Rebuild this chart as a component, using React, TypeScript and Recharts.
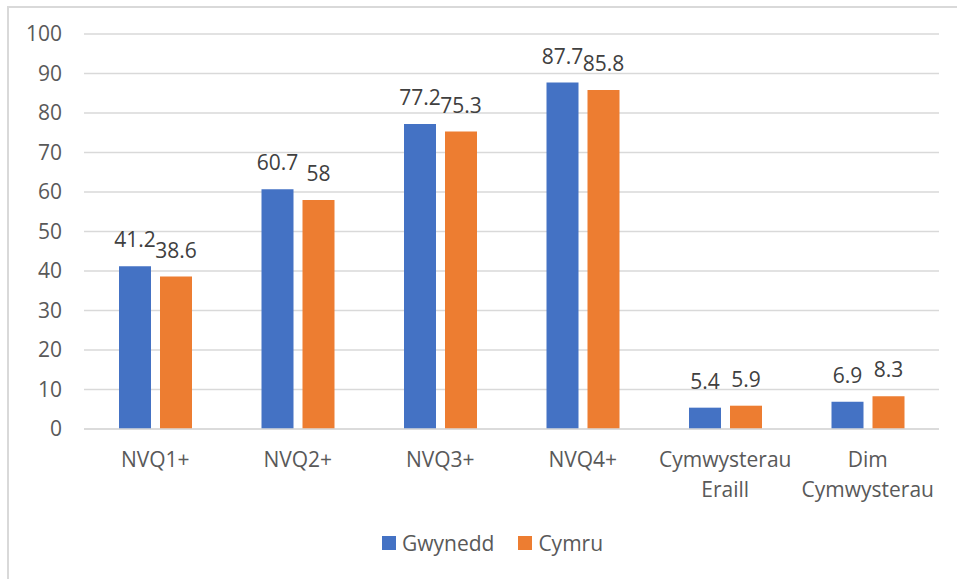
import React from "react";
import {
  BarChart,
  Bar,
  XAxis,
  YAxis,
  CartesianGrid,
  Legend,
  LabelList,
} from "recharts";

const categories = [
  "NVQ1+",
  "NVQ2+",
  "NVQ3+",
  "NVQ4+",
  "Cymwysterau Eraill",
  "Dim Cymwysterau",
];
const gwynedd = [41.2, 60.7, 77.2, 87.7, 5.4, 6.9];
const cymru = [38.6, 58, 75.3, 85.8, 5.9, 8.3];
const yTicks = [0, 10, 20, 30, 40, 50, 60, 70, 80, 90, 100];

const series = [
  { key: "Gwynedd", color: "#4472C4" },
  { key: "Cymru", color: "#ED7D31" },
];

const data = categories.map((name, i) => ({
  name,
  Gwynedd: gwynedd[i],
  Cymru: cymru[i],
}));

const FONT = "'Open Sans', sans-serif";

const CategoryTick = (props: any) => {
  const { x, y, payload } = props;
  const words = String(payload.value).split(" ");
  return (
    <text
      x={x}
      y={y}
      textAnchor="middle"
      fill="#595959"
      fontSize={21}
      fontFamily={FONT}
    >
      {words.map((w: string, i: number) => (
        <tspan key={i} x={x} dy={i === 0 ? 15 : 30}>
          {w}
        </tspan>
      ))}
    </text>
  );
};

const LegendContent = () => (
  <div
    style={{
      display: "flex",
      justifyContent: "center",
      gap: 24,
      fontFamily: FONT,
      fontSize: 21,
      color: "#595959",
      paddingLeft: 28,
    }}
  >
    {series.map((s) => (
      <div key={s.key} style={{ display: "flex", alignItems: "center" }}>
        <span
          style={{
            display: "inline-block",
            width: 14,
            height: 14,
            background: s.color,
            marginRight: 6,
          }}
        />
        {s.key}
      </div>
    ))}
  </div>
);

export default function App() {
  return (
    <div
      style={{
        position: "fixed",
        left: 0,
        top: 0,
        width: 957,
        height: 579,
        overflow: "hidden",
        background: "#fff",
      }}
    >
      <div
        style={{
          position: "absolute",
          left: 7,
          top: 6,
          width: 980,
          height: 620,
          border: "2px solid #d9d9d9",
        }}
      />
      <div style={{ position: "absolute", left: 0, top: 0 }}>
        <BarChart
          width={957}
          height={579}
          data={data}
          margin={{ top: 34, right: 18, left: 0, bottom: 90 }}
          barSize={32}
          barGap={9}
        >
          <CartesianGrid
            vertical={false}
            stroke="#d9d9d9"
            strokeWidth={1.5}
          />
          <XAxis
            dataKey="name"
            height={60}
            interval={0}
            tickLine={false}
            tickSize={0}
            tickMargin={23}
            axisLine={{ stroke: "#d9d9d9", strokeWidth: 1.5 }}
            tick={<CategoryTick />}
          />
          <YAxis
            width={84}
            domain={[0, 100]}
            ticks={yTicks}
            interval={0}
            axisLine={false}
            tickLine={false}
            tickSize={0}
            tickMargin={22}
            tick={{ fill: "#595959", fontSize: 21, fontFamily: FONT }}
          />
          <Legend
            layout="horizontal"
            verticalAlign="middle"
            wrapperStyle={{ top: 529, left: 0, width: 957 }}
            content={<LegendContent />}
          />
          {series.map((s) => (
            <Bar
              key={s.key}
              dataKey={s.key}
              fill={s.color}
              isAnimationActive={false}
            >
              <LabelList
                dataKey={s.key}
                position="top"
                offset={19}
                fill="#404040"
                fontSize={21}
                fontFamily={FONT}
              />
            </Bar>
          ))}
        </BarChart>
      </div>
    </div>
  );
}
